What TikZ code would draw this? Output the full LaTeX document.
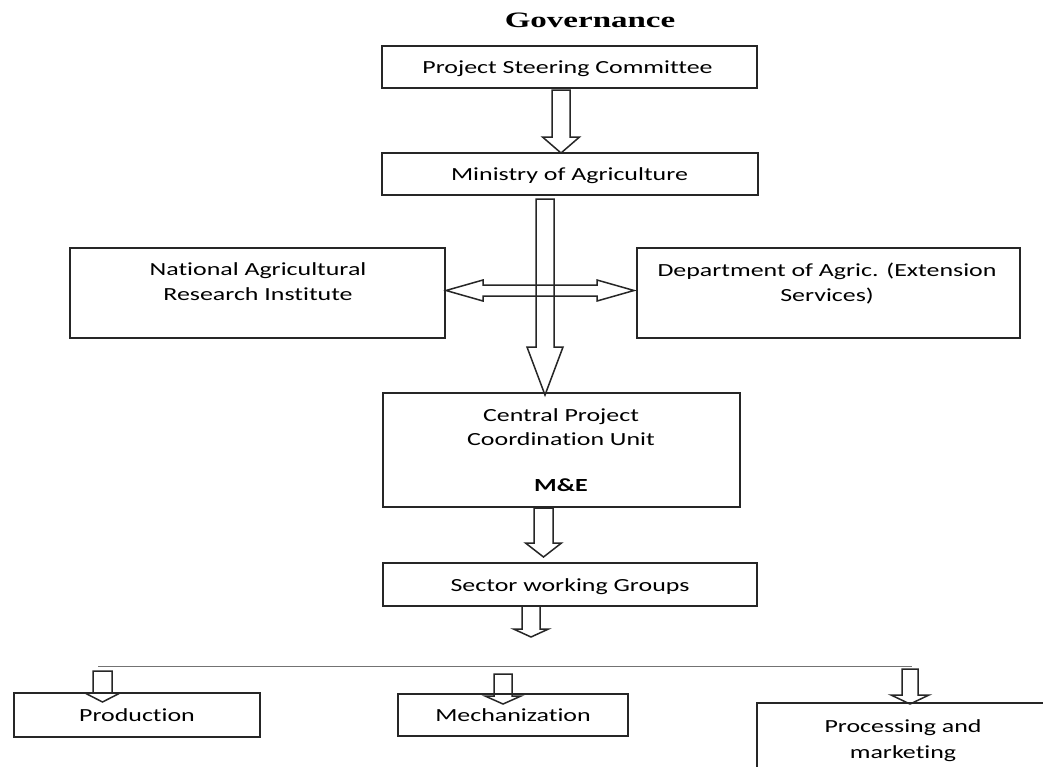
\documentclass[tikz,border=0pt]{standalone}
\usepackage{fontspec}
\setmainfont{Carlito}[FakeStretch=1.4, Ligatures=CommonOff]
\newfontfamily\titlefont{Liberation Serif}[FakeStretch=1.5]
\usetikzlibrary{calc}
\tikzset{
  box/.style={draw=black!85, line width=1.6pt, inner sep=0pt, outer sep=0pt},
  lbl/.style={anchor=base, inner sep=0pt, font=\fontsize{18.5}{22}\selectfont, text=black},
  barrow/.style={draw=black!85, line width=1.5pt, line join=miter},
  hrule/.style={draw=black!55, line width=1pt}
}
% block arrow pointing down: #1 start, #2 tip, #3 shaft half width, #4 head half width, #5 head length
\newcommand{\bdown}[5]{\draw[barrow] let \p1=(#1), \p2=(#2) in
  (\x1-#3pt,\y1) -- (\x1+#3pt,\y1) -- (\x1+#3pt,\y2+#5pt) -- (\x1+#4pt,\y2+#5pt)
  -- (\x2,\y2) -- (\x1-#4pt,\y2+#5pt) -- (\x1-#3pt,\y2+#5pt) -- cycle;}
\begin{document}
\begin{tikzpicture}[x=1pt,y=-1pt]
\useasboundingbox[fill=white] (0,0) rectangle (1043,766);
\clip (0,0) rectangle (1043,766);

% title
\node[anchor=base, inner sep=0pt, font=\titlefont\bfseries\fontsize{22}{26}\selectfont] (title) at (590,27) {Governance};

% boxes
\node[box, minimum width=375pt, minimum height=42pt] (psc) at (569.5,67) {};
\node[box, minimum width=376pt, minimum height=42pt] (moa) at (570,174) {};
\node[box, minimum width=375pt, minimum height=90pt] (nari) at (257.5,293) {};
\node[box, minimum width=383pt, minimum height=90pt] (dept) at (828.5,293) {};
\node[box, minimum width=357pt, minimum height=114pt] (cpcu) at (561.5,450) {};
\node[box, minimum width=374pt, minimum height=43pt] (swg) at (570,584.5) {};
\node[box, minimum width=246pt, minimum height=44pt] (prod) at (137,715) {};
\node[box, minimum width=230pt, minimum height=42pt] (mech) at (513,715) {};
\node[box, minimum width=292pt, minimum height=87pt] (proc) at (903,746.5) {};

% texts
\node[lbl] (tpsc) at (567.5,73) {Project Steering Committee};
\node[lbl] (tmoa) at (569.5,180) {Ministry of Agriculture};
\node[lbl] (tnari1) at (258,275) {National Agricultural};
\node[lbl] (tnari2) at (258,300) {Research Institute};
\node[lbl] (tdept1) at (827,276) {Department of Agric. (Extension};
\node[lbl] (tdept2) at (827,301) {Services)};
\node[lbl] (tcpcu1) at (561,421) {Central Project};
\node[lbl] (tcpcu2) at (561,445.5) {Coordination Unit};
\node[lbl, font=\bfseries\fontsize{18.5}{22}\selectfont] (tcpcu3) at (561,491) {M\&E};
\node[lbl] (tswg) at (570,591) {Sector working Groups};
\node[lbl] (tprod) at (137,721) {Production};
\node[lbl] (tmech) at (513,721) {Mechanization};
\node[lbl] (tproc1) at (903,732) {Processing and};
\node[lbl] (tproc2) at (903,758) {marketing};

% arrow end points
\coordinate (a1s) at (561,90);    \coordinate (a1e) at (561,153);
\coordinate (a2s) at (545,199);   \coordinate (a2e) at (545,395);
\coordinate (a3s) at (543.5,508); \coordinate (a3e) at (543.5,557);
\coordinate (a4s) at (531,606);   \coordinate (a4e) at (531,637);
\coordinate (a5s) at (102.5,671); \coordinate (a5e) at (102.5,702);
\coordinate (a6s) at (503,674);   \coordinate (a6e) at (503,704);
\coordinate (a7s) at (910,669);   \coordinate (a7e) at (910,704);
\coordinate (dl) at (446,290.5);  \coordinate (dr) at (634,290.5);
\coordinate (rl) at (98,666);     \coordinate (rr) at (912,666);

% block arrows
\bdown{a1s}{a1e}{9}{18.5}{16}
\bdown{a2s}{a2e}{9}{18}{48}
\bdown{a3s}{a3e}{9.5}{18}{14}
\bdown{a4s}{a4e}{9}{17.5}{8}
\bdown{a5s}{a5e}{9.5}{17.5}{9}
\bdown{a6s}{a6e}{9}{18}{8}
\bdown{a7s}{a7e}{8}{19}{9}

% double block arrow between NARI and Department
\draw[barrow] let \p1=(dl), \p2=(dr) in
  (\x1,\y1) -- (\x1+37pt,\y1+10.5pt) -- (\x1+37pt,\y1+5.5pt) -- (\x2-37pt,\y1+5.5pt)
  -- (\x2-37pt,\y1+10.5pt) -- (\x2,\y2) -- (\x2-37pt,\y1-10.5pt) -- (\x2-37pt,\y1-5.5pt)
  -- (\x1+37pt,\y1-5.5pt) -- (\x1+37pt,\y1-10.5pt) -- cycle;

% horizontal rule
\draw[hrule] (rl) -- (rr);
\end{tikzpicture}
\end{document}
